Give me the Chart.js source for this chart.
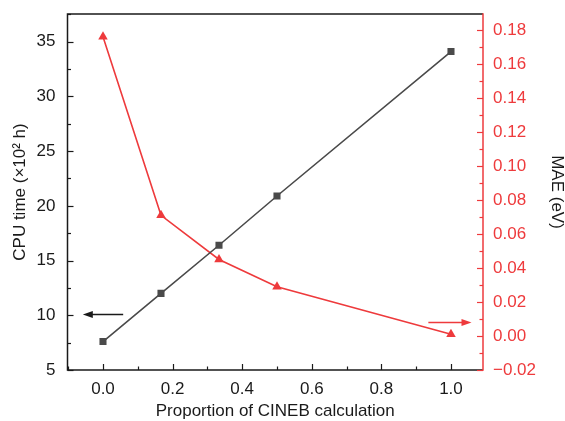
<!DOCTYPE html>
<html>
<head>
<meta charset="utf-8">
<script src="https://cdn.jsdelivr.net/npm/chart.js@4/dist/chart.umd.min.js"></script>
<style>
  html, body { margin: 0; padding: 0; background: #fff; }
  #wrap { width: 565px; height: 421px; }
</style>
</head>
<body>
<div id="wrap"><canvas id="chart"></canvas></div>
<script>
// CPU time and MAE vs. proportion of CINEB calculation
const proportion = [0, 1 / 6, 1 / 3, 0.5, 1.0];
const cpuTime = [7.6, 12.0, 16.4, 20.9, 34.1];
const mae = [0.176, 0.071, 0.045, 0.029, 0.001];

const xTicks = [0, 0.2, 0.4, 0.6, 0.8, 1.0];
const cpuTicks = [5, 10, 15, 20, 25, 30, 35];
const maeTicks = [-0.02, 0, 0.02, 0.04, 0.06, 0.08, 0.1, 0.12, 0.14, 0.16, 0.18];

// arrows telling which axis belongs to which curve: [tail x, head x, y]
const cpuArrow = [0.058, -0.058, 10.1];
const maeArrow = [0.935, 1.059, 0.0085];

const BLACK = "#1a1a1a";
const GREY = "#4a4a4a";
const RED = "#ee3a3c";
const FONT = "'Liberation Sans', Arial, sans-serif";

// minor ticks sit halfway between the major ones
const minorsOf = (majors, lo, hi) => {
  const step = majors[1] - majors[0];
  const out = [];
  for (let v = majors[0] - step / 2; v <= hi + 1e-9; v += step) {
    if (v >= lo - 1e-9) out.push(v);
  }
  return out;
};

const frame = {
  id: "frame",
  afterDraw(chart) {
    const { ctx, chartArea: a, scales } = chart;
    const sx = scales.x, sl = scales.y, sr = scales.y1;
    ctx.save();
    ctx.lineWidth = 1.5;
    ctx.lineCap = "butt";

    // black box: top, left, bottom
    ctx.strokeStyle = BLACK;
    ctx.beginPath();
    ctx.moveTo(a.right, a.top);
    ctx.lineTo(a.left, a.top);
    ctx.lineTo(a.left, a.bottom);
    ctx.lineTo(a.right, a.bottom);
    ctx.stroke();

    // inward ticks
    ctx.lineWidth = 1.2;
    const vTick = (vals, len) => {
      vals.forEach((v) => {
        const px = Math.round(sx.getPixelForValue(v)) + 0.5;
        ctx.beginPath();
        ctx.moveTo(px, a.bottom);
        ctx.lineTo(px, a.bottom - len);
        ctx.stroke();
      });
    };
    const hTick = (scale, vals, x0, dir, len) => {
      vals.forEach((v) => {
        const py = Math.round(scale.getPixelForValue(v)) + 0.5;
        ctx.beginPath();
        ctx.moveTo(x0, py);
        ctx.lineTo(x0 + dir * len, py);
        ctx.stroke();
      });
    };
    vTick(xTicks, 6);
    vTick(minorsOf(xTicks, sx.min, sx.max), 3.5);
    hTick(sl, cpuTicks, a.left, 1, 6);
    hTick(sl, minorsOf(cpuTicks, sl.min, sl.max), a.left, 1, 3.5);

    // red right axis
    ctx.strokeStyle = RED;
    ctx.lineWidth = 1.5;
    ctx.beginPath();
    ctx.moveTo(a.right, a.top - 0.75);
    ctx.lineTo(a.right, a.bottom + 0.75);
    ctx.stroke();
    ctx.lineWidth = 1.2;
    hTick(sr, maeTicks, a.right, -1, 6);
    hTick(sr, minorsOf(maeTicks, sr.min, sr.max), a.right, -1, 3.5);

    // arrows
    const arrow = (spec, yScale, color) => {
      const x0 = sx.getPixelForValue(spec[0]);
      const x1 = sx.getPixelForValue(spec[1]);
      const y = Math.round(yScale.getPixelForValue(spec[2])) + 0.5;
      const dir = Math.sign(x1 - x0);
      ctx.strokeStyle = color;
      ctx.fillStyle = color;
      ctx.lineWidth = 1.5;
      ctx.beginPath();
      ctx.moveTo(x0, y);
      ctx.lineTo(x1 - dir * 6, y);
      ctx.stroke();
      ctx.beginPath();
      ctx.moveTo(x1, y);
      ctx.lineTo(x1 - dir * 10, y - 3.5);
      ctx.lineTo(x1 - dir * 10, y + 3.5);
      ctx.closePath();
      ctx.fill();
    };
    arrow(cpuArrow, sl, BLACK);
    arrow(maeArrow, sr, RED);
    ctx.restore();
  },
};

const pick = (list) => (scale) => {
  scale.ticks = list.map((v) => ({ value: v }));
};

// fixed box sizes, no extra room for overhanging end labels
const fixSize = (prop, size) => (s) => {
  s[prop] = size;
  s.paddingTop = 0;
  s.paddingBottom = 0;
  s.paddingLeft = 0;
  s.paddingRight = 0;
};

new Chart(document.getElementById("chart"), {
  type: "line",
  data: {
    datasets: [
      {
        label: "CPU time",
        data: proportion.map((p, i) => ({ x: p, y: cpuTime[i] })),
        yAxisID: "y",
        borderColor: GREY,
        backgroundColor: GREY,
        borderWidth: 1.6,
        pointStyle: "rect",
        pointRadius: 5,
        pointBorderWidth: 0,
        tension: 0,
      },
      {
        label: "MAE",
        data: proportion.map((p, i) => ({ x: p, y: mae[i] })),
        yAxisID: "y1",
        borderColor: RED,
        backgroundColor: RED,
        borderWidth: 1.6,
        pointStyle: "triangle",
        pointRadius: 5.5,
        pointBorderWidth: 0,
        tension: 0,
      },
    ],
  },
  options: {
    responsive: true,
    maintainAspectRatio: false,
    animation: false,
    layout: { padding: { top: 14, left: 0, right: 0, bottom: 0 } },
    plugins: { legend: { display: false }, tooltip: { enabled: false } },
    scales: {
      x: {
        type: "linear",
        min: -0.102,
        max: 1.092,
        afterBuildTicks: pick(xTicks),
        afterFit: fixSize("height", 51),
        grid: { display: false, drawTicks: false },
        border: { display: false },
        ticks: {
          color: BLACK,
          padding: 9,
          font: { family: FONT, size: 17 },
          callback: (v) => v.toFixed(1),
        },
        title: {
          display: true,
          text: "Proportion of CINEB calculation",
          color: BLACK,
          padding: { top: 0, bottom: 1 },
          font: { family: FONT, size: 17, lineHeight: 1 },
        },
      },
      y: {
        position: "left",
        min: 5,
        max: 37.53,
        afterBuildTicks: pick(cpuTicks),
        afterFit: fixSize("width", 67.5),
        grid: { display: false, drawTicks: false },
        border: { display: false },
        ticks: {
          color: BLACK,
          padding: 12,
          font: { family: FONT, size: 17 },
        },
        title: {
          display: true,
          text: "CPU time (×10² h)",
          color: BLACK,
          padding: { top: 12, bottom: 0 },
          font: { family: FONT, size: 17, lineHeight: 1 },
        },
      },
      y1: {
        position: "right",
        min: -0.02,
        max: 0.1894,
        afterBuildTicks: pick(maeTicks),
        afterFit: fixSize("width", 82),
        grid: { display: false, drawTicks: false },
        border: { display: false },
        ticks: {
          color: RED,
          padding: 10,
          font: { family: FONT, size: 17 },
          callback: (v) => (v < 0 ? "\u2212" + Math.abs(v).toFixed(2) : v.toFixed(2)),
        },
        title: {
          display: true,
          text: "MAE (eV)",
          color: BLACK,
          padding: { top: 0, bottom: 0 },
          font: { family: FONT, size: 17, lineHeight: 1 },
        },
      },
    },
  },
  plugins: [frame],
});
</script>
</body>
</html>
